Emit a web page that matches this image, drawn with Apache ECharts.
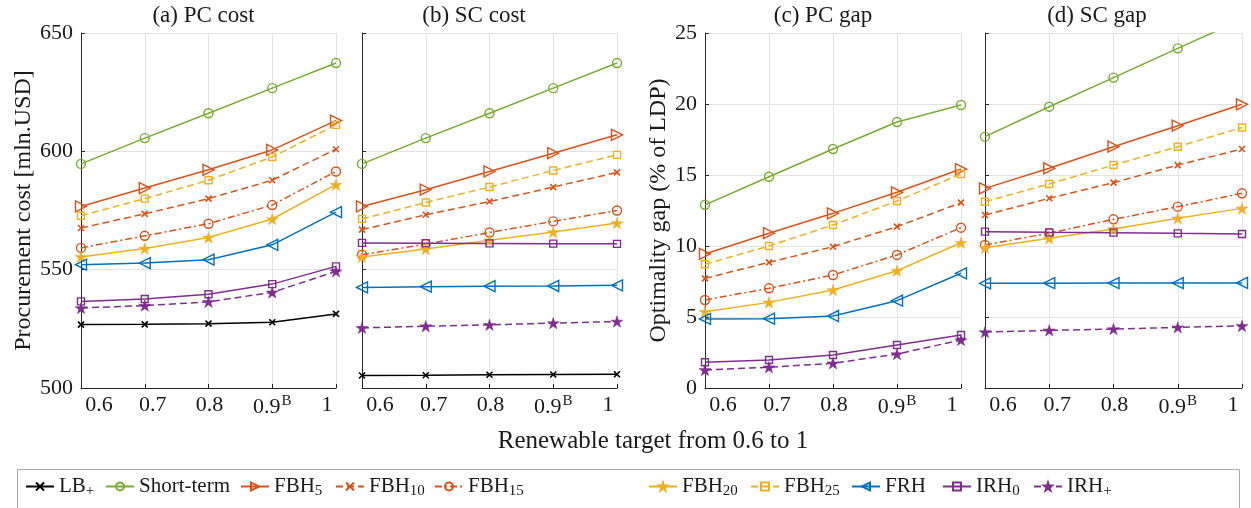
<!DOCTYPE html>
<html><head><meta charset="utf-8">
<script src="https://cdn.jsdelivr.net/npm/echarts@6/dist/echarts.min.js"></script>
<style>html,body{margin:0;padding:0;background:#fff}#c{width:1251px;height:508px}</style>
</head><body><div id="c"></div>
<script>
// ---------- data ----------
const categories = ['0.6', '0.7', '0.8', '0.9', '1'];
const seriesNames = ['LB+', 'Short-term', 'FBH5', 'FBH10', 'FBH15', 'FBH20', 'FBH25', 'FRH', 'IRH0', 'IRH+'];
const panelTitles = ['(a) PC cost', '(b) SC cost', '(c) PC gap', '(d) SC gap'];
const costTicks = [500, 550, 600, 650];
const gapTicks = [0, 5, 10, 15, 20, 25];

// (a) PC cost [mln.USD]
const pcCostLB   = [526.8, 526.9, 527.2, 527.8, 531.3];
const pcCostST   = [594.7, 605.6, 616.1, 626.7, 637.3];
const pcCostF5   = [576.7, 584.5, 592.2, 600.6, 613.0];
const pcCostF10  = [567.6, 573.6, 580.0, 587.8, 600.9];
const pcCostF15  = [559.2, 564.3, 569.4, 577.3, 591.5];
const pcCostF20  = [555.4, 558.9, 563.6, 571.4, 585.9];
const pcCostF25  = [572.8, 580.0, 587.8, 597.6, 611.2];
const pcCostFRH  = [552.1, 552.8, 554.2, 560.5, 574.3];
const pcCostIRH0 = [536.6, 537.6, 539.6, 543.9, 551.4];
const pcCostIRHp = [533.8, 534.8, 536.4, 540.4, 549.3];

// (b) SC cost [mln.USD]
const scCostLB   = [505.3, 505.4, 505.6, 505.7, 505.8];
const scCostST   = [594.7, 605.6, 616.1, 626.7, 637.3];
const scCostF5   = [576.7, 583.8, 591.5, 599.2, 607.0];
const scCostF10  = [566.9, 573.2, 578.8, 584.9, 591.1];
const scCostF15  = [556.3, 560.8, 565.7, 570.4, 575.0];
const scCostF20  = [555.4, 558.7, 562.4, 565.9, 569.7];
const scCostF25  = [571.4, 578.4, 584.9, 591.9, 598.5];
const scCostFRH  = [542.5, 542.8, 543.0, 543.1, 543.4];
const scCostIRH0 = [561.3, 561.2, 561.1, 561.0, 560.9];
const scCostIRHp = [525.4, 526.1, 526.7, 527.4, 528.1];

// (c) PC gap [% of LDP]
const pcGapST   = [12.9, 14.88, 16.83, 18.73, 19.93];
const pcGapF5   = [9.44, 10.9, 12.3, 13.78, 15.42];
const pcGapF10  = [7.72, 8.85, 9.95, 11.36, 13.05];
const pcGapF15  = [6.2, 7.02, 7.96, 9.37, 11.29];
const pcGapF20  = [5.37, 6.03, 6.9, 8.26, 10.23];
const pcGapF25  = [8.71, 10.0, 11.48, 13.17, 15.07];
const pcGapFRH  = [4.86, 4.88, 5.07, 6.15, 8.08];
const pcGapIRH0 = [1.81, 1.97, 2.32, 3.03, 3.73];
const pcGapIRHp = [1.27, 1.46, 1.74, 2.39, 3.38];

// (d) SC gap [% of LDP]
const scGapST   = [17.7, 19.81, 21.86, 23.92, 25.95];
const scGapF5   = [14.06, 15.47, 16.99, 18.47, 19.98];
const scGapF10  = [12.18, 13.36, 14.46, 15.7, 16.83];
const scGapF15  = [10.07, 10.9, 11.88, 12.77, 13.71];
const scGapF20  = [9.88, 10.54, 11.2, 11.95, 12.65];
const scGapF25  = [13.12, 14.37, 15.7, 16.99, 18.35];
const scGapFRH  = [7.37, 7.38, 7.39, 7.39, 7.4];
const scGapIRH0 = [11.01, 10.96, 10.94, 10.89, 10.85];
const scGapIRHp = [3.94, 4.06, 4.15, 4.27, 4.37];

const panelData = [
  {'LB+': pcCostLB, 'Short-term': pcCostST, 'FBH5': pcCostF5, 'FBH10': pcCostF10, 'FBH15': pcCostF15, 'FBH20': pcCostF20, 'FBH25': pcCostF25, 'FRH': pcCostFRH, 'IRH0': pcCostIRH0, 'IRH+': pcCostIRHp},
  {'LB+': scCostLB, 'Short-term': scCostST, 'FBH5': scCostF5, 'FBH10': scCostF10, 'FBH15': scCostF15, 'FBH20': scCostF20, 'FBH25': scCostF25, 'FRH': scCostFRH, 'IRH0': scCostIRH0, 'IRH+': scCostIRHp},
  {'Short-term': pcGapST, 'FBH5': pcGapF5, 'FBH10': pcGapF10, 'FBH15': pcGapF15, 'FBH20': pcGapF20, 'FBH25': pcGapF25, 'FRH': pcGapFRH, 'IRH0': pcGapIRH0, 'IRH+': pcGapIRHp},
  {'Short-term': scGapST, 'FBH5': scGapF5, 'FBH10': scGapF10, 'FBH15': scGapF15, 'FBH20': scGapF20, 'FBH25': scGapF25, 'FRH': scGapFRH, 'IRH0': scGapIRH0, 'IRH+': scGapIRHp}
];

// ---------- styles ----------
const FONT = 'Liberation Serif, Times New Roman, serif';
const TXT = '#1a1a1a';
const COL = {black: '#000000', green: '#77AC30', orange: '#D95319', yellow: '#EDB120', blue: '#0072BD', purple: '#7E2F8E'};
const STAR = 'path://M50,0L61.2,34.5L97.6,34.5L68.2,55.9L79.4,90.5L50,69.1L20.6,90.5L31.8,55.9L2.4,34.5L38.8,34.5Z';
const XMARK = 'path://M0,0L10,10M0,10L10,0';
const DASH = [7, 4];
const DASHDOT = [7, 3, 2, 3];
const sty = {
  'LB+':        {c: COL.black,  t: 'solid', s: XMARK,      z: 6,  open: false, r: 0},
  'Short-term': {c: COL.green,  t: 'solid', s: 'circle',   z: 9,  open: true,  r: 0},
  'FBH5':       {c: COL.orange, t: 'solid', s: 'triangle', z: 11, open: true,  r: -90},
  'FBH10':      {c: COL.orange, t: DASH,    s: XMARK,      z: 6,  open: false, r: 0},
  'FBH15':      {c: COL.orange, t: DASHDOT, s: 'circle',   z: 9,  open: true,  r: 0},
  'FBH20':      {c: COL.yellow, t: 'solid', s: STAR,       z: 12, open: false, r: 0},
  'FBH25':      {c: COL.yellow, t: DASH,    s: 'rect',     z: 7,  open: true,  r: 0},
  'FRH':        {c: COL.blue,   t: 'solid', s: 'triangle', z: 11, open: true,  r: 90},
  'IRH0':       {c: COL.purple, t: 'solid', s: 'rect',     z: 7,  open: true,  r: 0},
  'IRH+':       {c: COL.purple, t: DASH,    s: STAR,       z: 12, open: false, r: 0}
};
const legendLabel = {
  'LB+': '{m|LB}{sub|+}', 'Short-term': '{m|Short-term}', 'FBH5': '{m|FBH}{sub|5}', 'FBH10': '{m|FBH}{sub|10}',
  'FBH15': '{m|FBH}{sub|15}', 'FBH20': '{m|FBH}{sub|20}', 'FBH25': '{m|FBH}{sub|25}', 'FRH': '{m|FRH}',
  'IRH0': '{m|IRH}{sub|0}', 'IRH+': '{m|IRH}{sub|+}'
};
const legendLeft = [25, 105, 240, 335, 434, 648, 750, 851, 942, 1033];

const grids = [
  {left: 81,  top: 33, width: 255, height: 355},
  {left: 362, top: 33, width: 255, height: 355},
  {left: 705, top: 33, width: 256, height: 355},
  {left: 985, top: 33, width: 257, height: 355}
];
const titleCenters = [203.5, 474, 823, 1097];
const labelShift = [18, 8, 1, 2, -9];
const TICKFS = 22;

const xAxes = grids.map((g, i) => ({
  type: 'category', gridIndex: i, data: categories, boundaryGap: false,
  axisLine: {lineStyle: {color: '#262626', width: 1}},
  axisTick: {inside: true, length: 4, interval: 0, lineStyle: {color: '#262626'}},
  splitLine: {show: true, interval: 0, lineStyle: {color: '#e3e3e3', width: 1}},
  axisLabel: {
    interval: 0, hideOverlap: false,
    margin: 6, color: TXT, fontFamily: FONT, fontSize: TICKFS,
    formatter: (v, idx) => idx === 3 ? '{l3|' + v + '}{sup|B}' : '{l' + idx + '|' + v + '}',
    rich: {
      l0: {fontFamily: FONT, fontSize: TICKFS, color: TXT, padding: [0, 0, 0, 2 * labelShift[0]]},
      l1: {fontFamily: FONT, fontSize: TICKFS, color: TXT, padding: [0, 0, 0, 2 * labelShift[1]]},
      l2: {fontFamily: FONT, fontSize: TICKFS, color: TXT, padding: [0, 0, 0, 2 * labelShift[2]]},
      l3: {fontFamily: FONT, fontSize: TICKFS, color: TXT, padding: [0, 0, 0, 0]},
      l4: {fontFamily: FONT, fontSize: TICKFS, color: TXT, padding: [0, -2 * labelShift[4], 0, 0]},
      sup: {fontFamily: FONT, fontSize: 15, color: TXT, padding: [0, 0, 12, 1]}
    }
  }
}));

const yAxes = grids.map((g, i) => {
  const cost = i < 2;
  const ax = {
    type: 'value', gridIndex: i,
    min: cost ? costTicks[0] : gapTicks[0], max: cost ? costTicks[costTicks.length - 1] : gapTicks[gapTicks.length - 1],
    interval: cost ? 50 : 5,
    axisLine: {show: true, lineStyle: {color: '#262626', width: 1}},
    axisTick: {show: true, inside: true, length: 4, lineStyle: {color: '#262626'}},
    splitLine: {show: true, lineStyle: {color: '#e3e3e3', width: 1}},
    axisLabel: {show: i % 2 === 0, margin: 8, color: TXT, fontFamily: FONT, fontSize: TICKFS}
  };
  if (i === 0) { ax.name = 'Procurement cost [mln.USD]'; ax.nameGap = 45; }
  if (i === 2) { ax.name = 'Optimality gap (% of LDP)'; ax.nameGap = 28; }
  ax.nameLocation = 'middle';
  ax.nameTextStyle = {color: TXT, fontFamily: FONT, fontSize: 24};
  return ax;
});

const series = [];
panelData.forEach((pd, pi) => {
  seriesNames.forEach(name => {
    if (!pd[name]) return;
    const s = sty[name];
    series.push({
      type: 'line', name: name, xAxisIndex: pi, yAxisIndex: pi, data: pd[name],
      symbol: s.s, symbolSize: s.z, symbolRotate: s.r, symbolKeepAspect: true, showAllSymbol: true,
      lineStyle: {color: s.c, width: 1.5, type: s.t},
      itemStyle: {color: s.open ? 'rgba(255,255,255,0)' : s.c, borderColor: s.c, borderWidth: s.open ? 1.4 : (s.s === XMARK ? 1.6 : 0.5)},
      emphasis: {disabled: true}, clip: true, z: 2
    });
  });
});

const legends = seriesNames.map((name, i) => ({
  data: [name], left: legendLeft[i], top: 476, padding: 0, itemWidth: 28, itemHeight: 10, itemGap: 0,
  selectedMode: false,
  formatter: () => legendLabel[name],
  textStyle: {
    color: TXT, fontFamily: FONT, fontSize: 21,
    rich: {
      m: {fontFamily: FONT, fontSize: 21, color: TXT},
      sub: {fontFamily: FONT, fontSize: 15, color: TXT, padding: [9, 0, 0, 0]}
    }
  }
}));

const titles = panelTitles.map((t, i) => ({
  text: t, left: titleCenters[i], top: 4, padding: 0, textAlign: 'center',
  textStyle: {color: TXT, fontFamily: FONT, fontSize: 23, fontWeight: 'normal'}
}));
titles.push({text: 'Renewable target from 0.6 to 1', left: 653, top: 429, padding: 0, textAlign: 'center',
  textStyle: {color: TXT, fontFamily: FONT, fontSize: 25, fontWeight: 'normal'}});

const chart = echarts.init(document.getElementById('c'));
chart.setOption({
  animation: false,
  backgroundColor: '#ffffff',
  title: titles,
  grid: grids,
  xAxis: xAxes,
  yAxis: yAxes,
  legend: legends,
  graphic: [{type: 'rect', left: 15, top: 467, shape: {x: 0, y: 0, width: 1222, height: 39},
    style: {fill: 'none', stroke: '#a8a8a8', lineWidth: 1}, silent: true}],
  series: series
});
</script></body></html>
